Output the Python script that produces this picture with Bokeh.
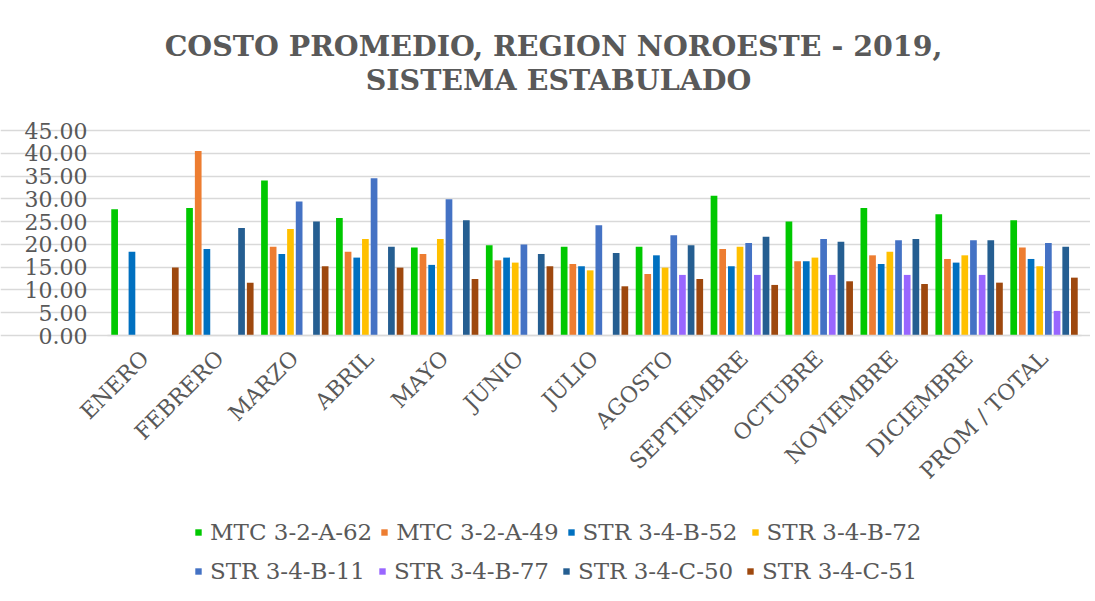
import math
from bokeh.plotting import figure
from bokeh.models import (ColumnDataSource, Legend, LegendItem, Label,
                          NumeralTickFormatter, FixedTicker, Range1d)
from bokeh.transform import dodge
from bokeh.embed import file_html
from bokeh.resources import INLINE

NaN = float("nan")

months = ["ENERO", "FEBRERO", "MARZO", "ABRIL", "MAYO", "JUNIO", "JULIO", "AGOSTO",
          "SEPTIEMBRE", "OCTUBRE", "NOVIEMBRE", "DICIEMBRE", "PROM / TOTAL"]

series_names = ["MTC 3-2-A-62", "MTC 3-2-A-49", "STR 3-4-B-52", "STR 3-4-B-72",
                "STR 3-4-B-11", "STR 3-4-B-77", "STR 3-4-C-50", "STR 3-4-C-51"]

mtc_3_2_a_62 = [27.7, 28.0, 34.0, 25.8, 19.3, 19.8, 19.5, 19.5, 30.7, 25.0, 28.0, 26.6, 25.3]
mtc_3_2_a_49 = [NaN, 40.5, 19.5, 18.4, 17.9, 16.5, 15.7, 13.5, 19.0, 16.3, 17.6, 16.8, 19.3]
str_3_4_b_52 = [18.4, 19.0, 17.9, 17.1, 15.5, 17.1, 15.2, 17.6, 15.2, 16.3, 15.7, 16.0, 16.8]
str_3_4_b_72 = [NaN, NaN, 23.4, 21.2, 21.2, 16.0, 14.3, 14.9, 19.5, 17.1, 18.4, 17.6, 15.2]
str_3_4_b_11 = [NaN, NaN, 29.4, 34.5, 29.9, 20.0, 24.2, 22.0, 20.3, 21.2, 20.9, 20.9, 20.3]
str_3_4_b_77 = [NaN, NaN, NaN, NaN, NaN, NaN, NaN, 13.3, 13.3, 13.3, 13.3, 13.3, 5.4]
str_3_4_c_50 = [NaN, 23.6, 25.0, 19.5, 25.3, 17.9, 18.1, 19.8, 21.7, 20.6, 21.2, 20.9, 19.5]
str_3_4_c_51 = [14.9, 11.6, 15.2, 14.9, 12.4, 15.2, 10.8, 12.4, 11.1, 11.9, 11.3, 11.6, 12.7]

y_ticks = [0, 5, 10, 15, 20, 25, 30, 35, 40, 45]

title_line1 = "COSTO PROMEDIO, REGION NOROESTE -  2019,"
title_line2 = "SISTEMA ESTABULADO"

series_values = [mtc_3_2_a_62, mtc_3_2_a_49, str_3_4_b_52, str_3_4_b_72,
                 str_3_4_b_11, str_3_4_b_77, str_3_4_c_50, str_3_4_c_51]
colors = ["#00C800", "#ED7D31", "#0070C0", "#FFC000",
          "#4472C4", "#9966FF", "#255E91", "#9E480E"]

# category centres on a numeric axis (one unit per category)
x_centres = [i + 0.5 for i in range(len(months))]

cols = ["s%d" % i for i in range(len(series_names))]
data = {"month": months, "xc": x_centres}
for c, v in zip(cols, series_values):
    data[c] = v
src = ColumnDataSource(data)

GREY = "#595959"
SERIF = "DejaVu Serif"

# geometry (page pixels): plot area x 107..1081, value 0 at y=335, 45 at y=130
W, H = 1090, 596
FRAME_L, FRAME_R = 107, 1081
Y0_PX, Y45_PX = 335, 130
ppu_y = (Y0_PX - Y45_PX) / 45.0
ppu_x = (FRAME_R - FRAME_L) / float(len(months))

p = figure(x_range=Range1d(-FRAME_L / ppu_x, len(months) + (W - FRAME_R) / ppu_x),
           y_range=Range1d(-(H - Y0_PX) / ppu_y, Y0_PX / ppu_y),
           width=W, height=H, output_backend="svg", toolbar_location=None,
           min_border_left=0, min_border_right=0, min_border_top=0,
           min_border_bottom=0)
p.outline_line_color = None

slot = 0.1157
bar_w = 0.0895
renderers = []
for i, (c, col) in enumerate(zip(cols, colors)):
    r = p.vbar(x=dodge("xc", (i - 3.5) * slot), top=c, width=bar_w,
               source=src, fill_color=col, line_color=None)
    renderers.append(r)

# y axis, drawn at the left edge of the categories
p.yaxis.fixed_location = 0
p.yaxis.ticker = FixedTicker(ticks=y_ticks)
p.yaxis.formatter = NumeralTickFormatter(format="0.00")
p.yaxis.axis_line_color = None
p.yaxis.major_tick_line_color = None
p.yaxis.minor_tick_line_color = None
p.yaxis.major_label_standoff = 14
p.yaxis.major_label_text_font = SERIF
p.yaxis.major_label_text_font_size = "22px"
p.yaxis.major_label_text_color = GREY

# x axis at value 0, category names as tick labels
p.xaxis.fixed_location = 0
p.xaxis.bounds = (0, len(months))
p.xaxis.ticker = FixedTicker(ticks=x_centres)
p.xaxis.major_label_overrides = {x: m for x, m in zip(x_centres, months)}
p.xaxis.major_label_orientation = math.pi / 4
p.xaxis.axis_line_color = "#D9D9D9"
p.xaxis.axis_line_width = 1.5
p.xaxis.major_tick_line_color = None
p.xaxis.minor_tick_line_color = None
p.xaxis.major_label_standoff = 13
p.xaxis.major_label_text_font = SERIF
p.xaxis.major_label_text_font_size = "22px"
p.xaxis.major_label_text_color = GREY

p.xgrid.grid_line_color = None
p.ygrid.ticker = FixedTicker(ticks=y_ticks)
p.ygrid.bounds = (0, 45)
p.ygrid.grid_line_color = "#D9D9D9"
p.ygrid.grid_line_width = 1.5

# title lines (screen units relative to frame bottom-left)
for txt, cy in ((title_line1, 45), (title_line2, 79)):
    p.add_layout(Label(x=558, y=H - cy, x_units="screen", y_units="screen",
                       text=txt, text_align="center", text_baseline="middle",
                       text_font=SERIF, text_font_style="bold", text_font_size="28.5px",
                       text_color=GREY))

# legend, two rows of four
items = [LegendItem(label=n, renderers=[r]) for n, r in zip(series_names, renderers)]
for row, center_y in ((0, 532), (1, 571)):
    leg = Legend(items=items[row * 4:(row + 1) * 4], orientation="horizontal",
                 location=(194, H - center_y - 13), margin=0, padding=0,
                 spacing=8, glyph_width=8, glyph_height=8, label_standoff=8,
                 label_width=160, label_height=26,
                 label_text_font=SERIF, label_text_font_size="23px",
                 label_text_color=GREY, border_line_color=None,
                 background_fill_alpha=0)
    p.add_layout(leg)

open("out.html", "w").write(file_html(p, INLINE))
